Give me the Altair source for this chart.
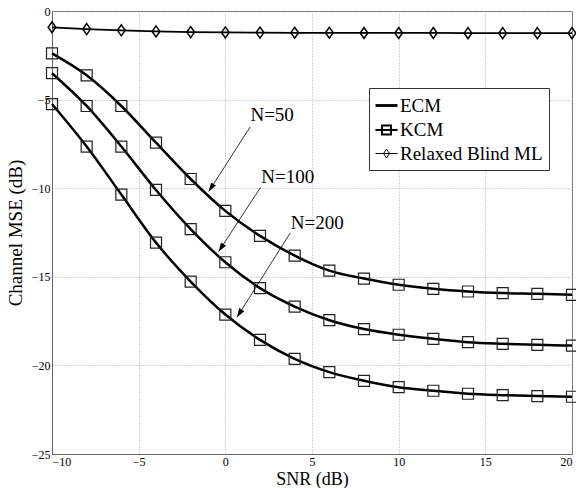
import altair as alt
import pandas as pd
import numpy as np

# ---------------- data ----------------
snr = [-10, -8, -6, -4, -2, 0, 2, 4, 6, 8, 10, 12, 14, 16, 18, 20]
mse_n50 = [-2.39, -3.63, -5.36, -7.43, -9.48, -11.28, -12.69, -13.80,
           -14.65, -15.10, -15.45, -15.68, -15.83, -15.92, -15.96, -16.02]
mse_n100 = [-3.51, -5.36, -7.65, -10.10, -12.31, -14.18, -15.64, -16.68,
            -17.45, -17.95, -18.27, -18.50, -18.69, -18.78, -18.84, -18.88]
mse_n200 = [-5.25, -7.65, -10.36, -13.07, -15.27, -17.13, -18.56, -19.63,
            -20.38, -20.87, -21.23, -21.43, -21.60, -21.68, -21.73, -21.77]
mse_relaxed = [-0.92, -1.02, -1.09, -1.15, -1.19, -1.21, -1.22, -1.23,
               -1.23, -1.24, -1.24, -1.24, -1.25, -1.25, -1.25, -1.25]

curve_labels = ["N=50", "N=100", "N=200"]
label_x = [2.7, 3.6, 5.3]
label_y = [-5.87, -9.35, -11.94]
arrow_x_start = [1.44, 2.02, 3.75]
arrow_y_start = [-6.53, -9.97, -12.52]
arrow_x_end = [-0.96, -0.39, 0.67]
arrow_y_end = [-10.19, -13.58, -17.28]

legend_names = ["ECM", "KCM", "Relaxed Blind ML"]
x_ticks = [-10, -5, 0, 5, 10, 15, 20]
y_ticks = [-25, -20, -15, -10, -5, 0]

# ---------------- layout constants ----------------
W, H = 520, 443
X_DOM = [-10, 20]
Y_DOM = [-25, 0]
FONT = "Liberation Serif"

# ---------------- tables ----------------
curves = pd.DataFrame({
    "snr": snr * 3,
    "mse": mse_n50 + mse_n100 + mse_n200,
    "N": ["50"] * len(snr) + ["100"] * len(snr) + ["200"] * len(snr),
})
relaxed = pd.DataFrame({"snr": snr, "mse": mse_relaxed})

px_x = W / (X_DOM[1] - X_DOM[0])
px_y = H / (Y_DOM[1] - Y_DOM[0])
angles = []
for xs, ys, xe, ye in zip(arrow_x_start, arrow_y_start, arrow_x_end, arrow_y_end):
    dx = (xe - xs) * px_x
    dy = -(ye - ys) * px_y
    a = np.degrees(np.arctan2(dx, -dy)) % 360
    angles.append(float(a))

ann = pd.DataFrame({
    "label": curve_labels, "lx": label_x, "ly": label_y,
    "xs": arrow_x_start, "ys": arrow_y_start,
    "xe": arrow_x_end, "ye": arrow_y_end, "ang": angles,
})

legend_df = pd.DataFrame({"series": legend_names,
                          "x": [X_DOM[0] - 100] * 3, "y": [Y_DOM[0] - 100] * 3})

xscale = alt.Scale(domain=X_DOM, nice=False, zero=False)
yscale = alt.Scale(domain=Y_DOM, nice=False, zero=False)

xaxis = alt.Axis(values=x_ticks, title="SNR (dB)", grid=True, ticks=False,
                 labelPadding=2, titleBaseline="alphabetic", titleY=30,
                 titleFontSize=18)
yaxis = alt.Axis(values=y_ticks, title="Channel MSE (dB)", grid=True, ticks=False,
                 labelPadding=2, titlePadding=6)

X = alt.X("snr:Q", scale=xscale, axis=xaxis)
Y = alt.Y("mse:Q", scale=yscale, axis=yaxis)

ecm = alt.Chart(curves).mark_line(color="black", strokeWidth=2.5,
                                  interpolate="monotone").encode(
    x=X, y=Y, detail="N:N")

kcm = alt.Chart(curves).mark_point(shape="square", size=121, filled=False,
                                   color="#222", strokeWidth=1.2,
                                   opacity=1).encode(x=X, y=Y)

diamond_path = "M0,-1L0.7,0L0,1L-0.7,0Z"
rel_line = alt.Chart(relaxed).mark_line(color="black", strokeWidth=1.8).encode(x=X, y=Y)
rel_pts = alt.Chart(relaxed).mark_point(shape=diamond_path, size=121, filled=False,
                                        color="black", strokeWidth=1.5,
                                        opacity=1).encode(x=X, y=Y)

texts = alt.Chart(ann).mark_text(font=FONT, fontSize=19, align="center",
                                 baseline="middle", color="black").encode(
    x=alt.X("lx:Q", scale=xscale), y=alt.Y("ly:Q", scale=yscale), text="label:N")

arrows = alt.Chart(ann).mark_rule(color="black", strokeWidth=0.8).encode(
    x=alt.X("xs:Q", scale=xscale), y=alt.Y("ys:Q", scale=yscale),
    x2="xe:Q", y2="ye:Q")

head_path = "M0,0L-0.33,1L0.33,1Z"
heads = alt.Chart(ann).mark_point(shape=head_path, size=324, filled=True,
                                  color="black", opacity=1).encode(
    x=alt.X("xe:Q", scale=xscale), y=alt.Y("ye:Q", scale=yscale),
    angle=alt.Angle("ang:Q", scale=None))

leg_paths = [
    "M-1.1,0H1.1",
    "M-1.1,0H1.1M-0.45,-0.45H0.45V0.45H-0.45Z",
    "M-1.1,0H1.1M0,-0.45L0.3,0L0,0.45L-0.3,0Z",
]
leg = alt.Legend(orient="none", legendX=317, legendY=77, title=None,
                 symbolSize=400, labelFont=FONT, labelFontSize=19,
                 strokeColor="#333", fillColor="white", padding=6,
                 rowPadding=3, labelOffset=2, labelLimit=300,
                 symbolStrokeColor="black", symbolFillColor="transparent")
legend_layer = alt.Chart(legend_df).mark_point(filled=False, color="black",
                                               clip=True, opacity=1).encode(
    x=alt.X("x:Q", scale=xscale),
    y=alt.Y("y:Q", scale=yscale),
    shape=alt.Shape("series:O", scale=alt.Scale(domain=legend_names, range=leg_paths),
                    legend=leg),
    strokeWidth=alt.StrokeWidth("series:O",
                                scale=alt.Scale(domain=legend_names, range=[2.8, 1.0, 2.0]),
                                legend=leg),
)

chart = alt.layer(ecm, kcm, rel_line, rel_pts, arrows, heads, texts, legend_layer).properties(
    width=W, height=H,
    padding={"left": 52, "top": 11, "right": 4, "bottom": 34},
    autosize=alt.AutoSizeParams(type="none"),
).configure_axis(
    labelFont=FONT, labelFontSize=12, labelColor="black",
    titleFont=FONT, titleFontSize=19, titleFontWeight="normal", titleColor="black",
    domainColor="#666", gridColor="#aaa", gridDash=[1, 2], gridWidth=1,
).configure_view(stroke="#666", strokeWidth=1)

chart.save("out.html", embed_options={"renderer": "svg", "actions": False})
